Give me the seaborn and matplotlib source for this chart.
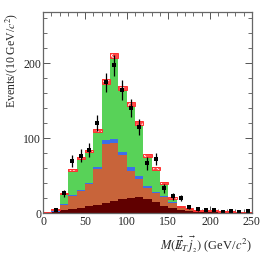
import numpy as np
import pandas as pd
import matplotlib
matplotlib.use("Agg")
import matplotlib.pyplot as plt
import seaborn as sns

# 10 GeV bins from 0 to 250
bin_edges = list(range(0, 260, 10))
bin_centers = [5, 15, 25, 35, 45, 55, 65, 75, 85, 95, 105, 115, 125,
               135, 145, 155, 165, 175, 185, 195, 205, 215, 225, 235, 245]

# stacked background components (events per bin), bottom to top
comp_darkred = [0.2, 1, 3.5, 5, 6.7, 9, 11, 13.3, 16.4, 18.7, 20, 21, 19,
                14, 9, 6.7, 4.4, 2.7, 2, 1.5, 1.2, 1, 0.8, 0.6, 0.6]
comp_orange = [0.1, 0.8, 7.5, 17.5, 23, 30, 47, 78, 77, 58, 36.5, 24.5, 14.5,
               12, 12, 6.3, 1.6, 1.3, 0.7, 0.7, 0.6, 0.3, 0.2, 0.2, 0.2]
comp_blue = [0, 0.2, 0.5, 1, 1, 1.5, 3, 5.5, 5.5, 5, 4.5, 3.5, 2.5,
             2, 1, 1, 1, 0.5, 0.3, 0.3, 0.2, 0.2, 0.2, 0.2, 0.2]
comp_green = [0.2, 2.5, 14.5, 33.5, 43, 42.5, 49, 78.5, 111.5, 85, 84, 71, 41,
              31, 18, 6, 2, 1.5, 0.5, 1, 1, 0.5, 0.8, 0.5, 0.5]

# half-height of the hatched uncertainty box on the total
band_err = [0.3, 0.5, 0.8, 1, 1.2, 1.3, 2, 3.3, 3.5, 3, 2.8, 2.5, 2,
            1.8, 1.5, 1, 0.7, 0.5, 0.4, 0.4, 0.3, 0.3, 0.3, 0.3, 0.3]

# observed data
data_x = [15, 25, 35, 45, 55, 65, 75, 85, 95, 105, 115, 125, 135, 145,
          155, 165, 175, 185, 195, 205, 215, 225, 235, 245]
data_y = [4.5, 26, 69, 76, 84, 120, 174, 197, 164, 140, 114, 66, 72, 33,
          22, 20, 8, 5, 4, 4.5, 1, 2, 1, 2]

colors = {"green": "#58d258", "blue": "#3d6fe8", "orange": "#c8643a", "darkred": "#600000"}

sns.set_style("ticks")
plt.rcParams['font.family'] = ['Liberation Serif', 'DejaVu Serif']
plt.rcParams['mathtext.fontset'] = 'stix'
plt.rcParams['hatch.linewidth'] = 0.6

rows = []
for name, vals in [("darkred", comp_darkred), ("orange", comp_orange),
                   ("blue", comp_blue), ("green", comp_green)]:
    for c, v in zip(bin_centers, vals):
        rows.append({"x": c, "w": v, "comp": name})
df = pd.DataFrame(rows)

fig = plt.figure(figsize=(2.66, 2.55), dpi=100)
ax = fig.add_axes([0.162, 0.161, 0.785, 0.788])

# seaborn puts the first hue level on top of the stack
sns.histplot(data=df, x="x", weights="w", hue="comp",
             hue_order=["green", "blue", "orange", "darkred"],
             palette=colors, bins=bin_edges, multiple="stack",
             element="bars", linewidth=0, alpha=1, legend=False, ax=ax)

total = np.array(comp_darkred) + np.array(comp_orange) + np.array(comp_blue) + np.array(comp_green)
err = np.array(band_err)
ax.bar(bin_centers, 2 * err, bottom=total - err, width=10,
       facecolor="#ff4a4a", edgecolor="white", hatch="xxx", linewidth=0)
ax.bar(bin_centers, 2 * err, bottom=total - err, width=10,
       fill=False, edgecolor="#ff3030", linewidth=0.7)

ax.errorbar(data_x, data_y, yerr=np.sqrt(data_y), fmt="s", color="black",
            markersize=2.3, markeredgewidth=0, elinewidth=0.9, capsize=0)

ax.set_xlim(0, 250)
ax.set_ylim(0, 268)
ax.set_xticks([0, 50, 100, 150, 200, 250])
ax.set_xticks(range(0, 251, 10), minor=True)
ax.set_yticks([0, 100, 200])
ax.set_yticks(range(0, 261, 20), minor=True)
ax.tick_params(which="both", direction="in", top=True, right=True,
               labelsize=8.5, color="#555555", pad=1.5)
ax.tick_params(which="major", length=5, width=0.7)
ax.tick_params(which="minor", length=3, width=0.6)
for sp in ax.spines.values():
    sp.set_color("#666666")
    sp.set_linewidth(0.9)

ax.set_xlabel(r"$M(\vec{E\!\!\!/}_T\,\vec{j}_{_2})$ (GeV/$c^2$)", loc="right", fontsize=9, labelpad=5)
ax.set_ylabel(r"Events/(10 GeV/$c^2$)", loc="top", fontsize=8.5, labelpad=2)

fig.savefig("out.png", dpi=100)
